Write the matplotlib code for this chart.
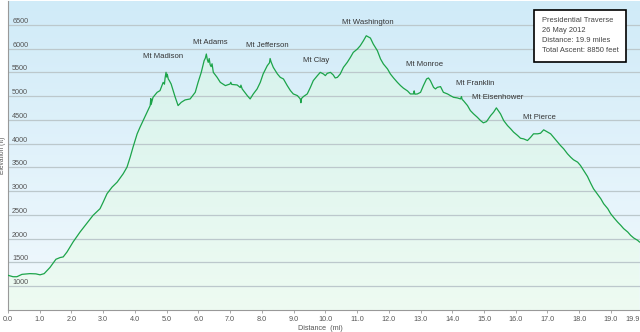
import numpy as np
import matplotlib.pyplot as plt
from matplotlib.patches import Polygon

plt.rcParams['font.family'] = ['Liberation Sans', 'DejaVu Sans']

### Track profile: distance (mi) and elevation (ft)
dist_mi = [0.00, 0.16, 0.28, 0.44, 0.69, 0.88, 1.01, 1.14, 1.32, 1.51, 1.64, 1.74, 1.86,
           2.05, 2.27, 2.49, 2.68, 2.90, 3.00, 3.12, 3.28, 3.44, 3.63, 3.75, 3.85, 3.94,
           4.07, 4.16, 4.26, 4.38, 4.48, 4.50, 4.51, 4.57, 4.70, 4.79, 4.89, 4.93, 4.95,
           4.98, 5.00, 5.02, 5.05, 5.08, 5.14, 5.27, 5.36, 5.46, 5.58, 5.74, 5.90, 5.99,
           6.09, 6.18, 6.22, 6.25, 6.28, 6.31, 6.34, 6.37, 6.40, 6.43, 6.47, 6.59, 6.69,
           6.85, 7.00, 7.02, 7.05, 7.22, 7.32, 7.34, 7.38, 7.54, 7.63, 7.73, 7.85, 7.95,
           8.04, 8.17, 8.24, 8.26, 8.29, 8.36, 8.49, 8.58, 8.68, 8.80, 8.90, 8.99, 9.12,
           9.21, 9.23, 9.25, 9.31, 9.43, 9.53, 9.62, 9.75, 9.84, 9.94, 10.00, 10.06,
           10.16, 10.25, 10.31, 10.38, 10.47, 10.57, 10.69, 10.79, 10.88, 11.01, 11.10,
           11.20, 11.29, 11.42, 11.51, 11.64, 11.74, 11.83, 11.96, 12.05, 12.15, 12.27,
           12.37, 12.46, 12.59, 12.68, 12.78, 12.80, 12.82, 12.90, 13.00, 13.09, 13.19,
           13.25, 13.31, 13.41, 13.47, 13.53, 13.63, 13.72, 13.85, 13.94, 14.04, 14.16,
           14.26, 14.29, 14.31, 14.35, 14.48, 14.57, 14.67, 14.79, 14.89, 14.98, 15.08,
           15.21, 15.30, 15.39, 15.52, 15.62, 15.74, 15.84, 15.93, 16.06, 16.15, 16.25,
           16.37, 16.47, 16.56, 16.69, 16.78, 16.88, 17.00, 17.10, 17.19, 17.32, 17.41,
           17.51, 17.63, 17.73, 17.82, 17.95, 18.04, 18.14, 18.26, 18.36, 18.45, 18.58,
           18.68, 18.77, 18.90, 18.99, 19.09, 19.21, 19.31, 19.40, 19.53, 19.62, 19.72,
           19.84, 19.90]
elev_ft = [1230, 1200, 1200, 1250, 1265, 1260, 1240, 1265, 1393, 1567, 1603, 1617, 1721,
           1930, 2140, 2329, 2491, 2631, 2770, 2946, 3085, 3190, 3366, 3505, 3715, 3925,
           4206, 4344, 4485, 4659, 4800, 4947, 4821, 4974, 5079, 5115, 5289, 5250, 5380,
           5500, 5400, 5460, 5360, 5330, 5255, 4974, 4800, 4869, 4919, 4940, 5079, 5289,
           5499, 5744, 5800, 5885, 5770, 5709, 5790, 5660, 5620, 5680, 5499, 5394, 5289,
           5220, 5255, 5290, 5245, 5234, 5180, 5230, 5150, 5010, 4940, 5045, 5150, 5289,
           5465, 5639, 5700, 5790, 5720, 5604, 5465, 5394, 5360, 5220, 5115, 5045, 5010,
           4940, 4860, 4950, 4990, 5045, 5184, 5325, 5430, 5499, 5465, 5430, 5478,
           5499, 5444, 5381, 5394, 5465, 5604, 5709, 5814, 5919, 5990, 6059,
           6164, 6269, 6221, 6095, 5954, 5780, 5675, 5570, 5465, 5381, 5289,
           5220, 5167, 5108, 5045, 5045, 5110, 5040, 5045, 5079, 5220, 5360,
           5381, 5325, 5184, 5150, 5184, 5199, 5079, 5045, 5010, 4974, 4961,
           4940, 4990, 4930, 4905, 4800, 4695, 4626, 4554, 4485, 4437, 4464,
           4590, 4659, 4752, 4626, 4485, 4380, 4311, 4243, 4170, 4113, 4100,
           4065, 4134, 4206, 4206, 4218, 4290, 4243, 4206, 4134, 4029, 3960,
           3891, 3786, 3715, 3660, 3610, 3540, 3435, 3310, 3169, 3051, 2932,
           2841, 2736, 2631, 2527, 2443, 2350, 2281, 2212, 2140, 2071, 2014,
           1966, 1930]

### Summits along the traverse
peak_names = ['Mt Madison', 'Mt Adams', 'Mt Jefferson', 'Mt Clay', 'Mt Washington',
              'Mt Monroe', 'Mt Franklin', 'Mt Eisenhower', 'Mt Pierce']
peak_mi = [4.98, 6.25, 8.26, 9.84, 11.29, 13.25, 13.63, 15.39, 16.88]
label_offsets = [(-2, 9), (3, 6), (-2, 7), (-3, 6), (1, 7), (-3, 7), (25, 0), (1, 5), (-3, 6)]

x_ticks = [0.0, 1.0, 2.0, 3.0, 4.0, 5.0, 6.0, 7.0, 8.0, 9.0, 10.0, 11.0, 12.0, 13.0,
           14.0, 15.0, 16.0, 17.0, 18.0, 19.0, 19.9]
y_ticks = [1000, 1500, 2000, 2500, 3000, 3500, 4000, 4500, 5000, 5500, 6000, 6500]

info_lines = ['Presidential Traverse', '26 May 2012', 'Distance: 19.9 miles',
              'Total Ascent: 8850 feet']

x = np.array(dist_mi)
y = np.array(elev_ft)
xmin, xmax, ymin, ymax = 0, 19.9, 500, 7000

fig = plt.figure(figsize=(6.4, 3.32), dpi=100)
ax = fig.add_axes([8 / 640, 22 / 332, 631.5 / 640, 309 / 332])

## sky gradient behind everything (row 0 = top)
sky = np.linspace(0, 1, 256).reshape(-1, 1)
sky_cmap = plt.matplotlib.colors.LinearSegmentedColormap.from_list('sky', ['#d0ebf8', '#f2f9fd'])
ax.imshow(sky, extent=[xmin, xmax, ymin, ymax], origin='upper', aspect='auto',
          cmap=sky_cmap, zorder=0)

## green gradient under the profile
grass_cmap = plt.matplotlib.colors.LinearSegmentedColormap.from_list('grass', ['#d3f1ec', '#eefbf2'])
im = ax.imshow(sky, extent=[xmin, xmax, ymin, ymax], origin='upper', aspect='auto',
               cmap=grass_cmap, zorder=1)
poly = Polygon(np.column_stack([np.r_[x[0], x, x[-1]], np.r_[ymin, y, ymin]]),
               closed=True, fc='none', ec='none')
ax.add_patch(poly)
im.set_clip_path(poly)

for gy in y_ticks:
    ax.axhline(gy, color='#bcc8cc', lw=0.9, zorder=2)

ax.plot(x, y, color='#1ca44a', lw=0.9, zorder=3)

for name, pm, off in zip(peak_names, peak_mi, label_offsets):
    pe = np.interp(pm, x, y)
    ax.annotate(name, (pm, pe), xytext=off, textcoords='offset points',
                ha='center', va='bottom', fontsize=5.6, color='#333333', zorder=4)

ax.text(0.845, 0.947, '\n'.join(info_lines), transform=ax.transAxes, ha='left', va='top',
        fontsize=5.4, color='#444444', linespacing=1.55, zorder=5,
        bbox=dict(boxstyle='square,pad=1.05', fc='white', ec='black', lw=1.2))

ax.set_xlim(xmin, xmax)
ax.set_ylim(ymin, ymax)
ax.set_xticks(x_ticks)
ax.set_xticklabels(['%.1f' % t for t in x_ticks])
ax.set_yticks(y_ticks)
ax.set_yticklabels([str(t) for t in y_ticks])
ax.tick_params(axis='x', length=2.5, width=0.6, color='#999999', labelsize=5.2,
               labelcolor='#555555', pad=1.5)
ax.tick_params(axis='y', length=0, labelsize=5.2, labelcolor='#555555', pad=-3)
for lab in ax.get_yticklabels():
    lab.set_ha('left')
    lab.set_va('bottom')
ax.get_xticklabels()[-1].set_ha('right')

for s in ['top', 'right']:
    ax.spines[s].set_visible(False)
for s in ['left', 'bottom']:
    ax.spines[s].set_color('#999999')
    ax.spines[s].set_linewidth(0.8)

fig.text(320 / 640, 4 / 332, 'Distance  (mi)', ha='center', va='center', fontsize=5.2,
         color='#555555')
fig.text(3 / 640, 1 - 155 / 332, 'Elevation (ft)', ha='center', va='center', rotation=90,
         fontsize=4.8, color='#555555')

fig.savefig('out.png', dpi=100)
